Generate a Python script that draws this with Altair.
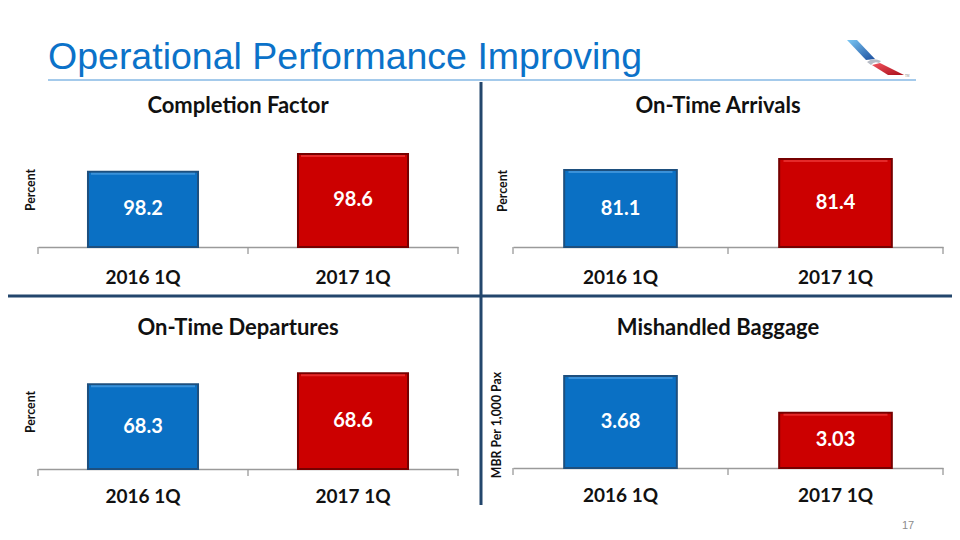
import base64
import altair as alt
import pandas as pd

# ---------------- data ----------------
periods = ["2016 1Q", "2017 1Q"]
completion_factor = [98.2, 98.6]
on_time_arrivals = [81.1, 81.4]
on_time_departures = [68.3, 68.6]
mishandled_baggage = [3.68, 3.03]

panel_titles = ["Completion Factor", "On-Time Arrivals", "On-Time Departures", "Mishandled Baggage"]
axis_titles = ["Percent", "Percent", "Percent", "MBR Per 1,000 Pax"]
value_formats = [".1f", ".1f", ".1f", ".2f"]
# truncated value axes (the slide's bars do not start at zero)
axis_domains = [[96.5, 99.0], [79.0, 82.0], [66.0, 69.0], [2.05, 4.0]]
slide_title = "Operational Performance Improving"
page_number = "17"

# ---------------- layout / style ----------------
M = 8
W, H = 944, 523


def px(v):
    return v - M


BLUE, RED = "#0A70C4", "#CC0000"
BLUE_EDGE, RED_EDGE = "#1D4F7E", "#760000"
BLUE_HI, RED_HI = "#4E9FE2", "#F03A3A"
TXT = "#111111"
AXIS_GREY = "#9A9A9A"
BODY_FONT = "Lato"

panels = [
    dict(values=completion_factor, xr=(38, 458), base=247, top=136.25, title=(238, 106), ytitle=(31, 190), lpad=21),
    dict(values=on_time_arrivals, xr=(513, 943), base=247, top=137, title=(718, 106), ytitle=(503, 191), lpad=21),
    dict(values=on_time_departures, xr=(38, 458), base=469, top=358.6, title=(238, 328), ytitle=(31, 412), lpad=18),
    dict(values=mishandled_baggage, xr=(513, 943), base=468, top=358, title=(718, 328), ytitle=(497, 425), lpad=18),
]

one_row = alt.Data(values=[{"k": 1}])


def text_layer(txt, x, y, **kw):
    return alt.Chart(pd.DataFrame({"t": [txt]})).mark_text(**kw).encode(
        text="t:N", x=alt.value(px(x)), y=alt.value(px(y))
    )


def rule_v(x, y0, y1, **kw):
    return alt.Chart(one_row).mark_rule(**kw).encode(
        x=alt.value(px(x)), y=alt.value(px(y0)), y2=alt.value(px(y1)))


layers = []

for i, p in enumerate(panels):
    dmin, dmax = axis_domains[i]
    df = pd.DataFrame({"period": periods, "value": p["values"]})
    df["mid"] = (df["value"] + dmin) / 2.0

    xs = alt.Scale(domain=periods, range=[px(p["xr"][0]), px(p["xr"][1])],
                   paddingInner=0.476, paddingOuter=0.238)
    ys = alt.Scale(domain=[dmin, dmax], range=[px(p["base"]), px(p["top"])], zero=False, nice=False)
    fill_scale = alt.Scale(domain=periods, range=[BLUE, RED])
    edge_scale = alt.Scale(domain=periods, range=[BLUE_EDGE, RED_EDGE])
    hi_scale = alt.Scale(domain=periods, range=[BLUE_HI, RED_HI])

    bars = alt.Chart(df).mark_bar(strokeWidth=2).encode(
        x=alt.X("period:N", scale=xs, sort=periods,
                axis=alt.Axis(orient="bottom", offset=px(p["base"]) - H, title=None,
                              labelFont=BODY_FONT, labelFontWeight="bold", labelFontSize=19,
                              labelColor=TXT, labelPadding=p["lpad"], labelAngle=0,
                              domain=True, domainColor=AXIS_GREY, domainWidth=1.3,
                              ticks=False, grid=False)),
        y=alt.Y("value:Q", scale=ys, axis=None),
        y2=alt.datum(dmin),
        fill=alt.Fill("period:N", scale=fill_scale, legend=None),
        stroke=alt.Stroke("period:N", scale=edge_scale, legend=None),
    )
    hi = alt.Chart(df).mark_tick(thickness=2, size=104, yOffset=2).encode(
        x=alt.X("period:N", scale=xs, sort=periods, axis=None),
        y=alt.Y("value:Q", scale=ys, axis=None),
        color=alt.Color("period:N", scale=hi_scale, legend=None),
    )
    labels = alt.Chart(df).mark_text(font=BODY_FONT, fontWeight="bold", fontSize=20,
                                     color="white", baseline="middle").encode(
        x=alt.X("period:N", scale=xs, sort=periods, axis=None),
        y=alt.Y("mid:Q", scale=ys, axis=None),
        text=alt.Text("value:Q", format=value_formats[i]),
    )
    layers += [bars, hi, labels]

    # category-boundary ticks below the axis line
    x0, x1 = p["xr"]
    for tx in (x0, (x0 + x1) / 2.0, x1):
        layers.append(rule_v(tx, p["base"], p["base"] + 7, color=AXIS_GREY, strokeWidth=1.3))

    layers.append(text_layer(panel_titles[i], p["title"][0], p["title"][1], font=BODY_FONT,
                             fontWeight="bold", fontSize=22, color=TXT, align="center",
                             baseline="middle"))
    layers.append(text_layer(axis_titles[i], p["ytitle"][0], p["ytitle"][1], font=BODY_FONT,
                             fontWeight="bold", fontSize=12.3, color=TXT, align="center",
                             baseline="middle", angle=270))

# slide title and underline
layers.append(text_layer(slide_title, 48, 69, font="Liberation Sans", fontSize=37.5,
                         color="#0B72C9", align="left", baseline="alphabetic"))
layers.append(alt.Chart(one_row).mark_rule(color="#86B9E4", strokeWidth=1.5).encode(
    x=alt.value(px(48)), x2=alt.value(px(916)), y=alt.value(px(80))))

# dividers
layers.append(rule_v(481, 82, 505, color="#23466C", strokeWidth=3))
layers.append(alt.Chart(one_row).mark_rule(color="#23466C", strokeWidth=3).encode(
    x=alt.value(0), x2=alt.value(W), y=alt.value(px(296))))

# logo
logo_svg = (
    "<svg xmlns='http://www.w3.org/2000/svg' width='64' height='46' viewBox='0 0 64 46'>"
    "<defs><linearGradient id='b' x1='0' y1='0' x2='1' y2='1'>"
    "<stop offset='0' stop-color='#7CC8F4'/><stop offset='1' stop-color='#1B4E9E'/></linearGradient>"
    "<linearGradient id='r' x1='0' y1='0' x2='1' y2='1'>"
    "<stop offset='0' stop-color='#F2545E'/><stop offset='1' stop-color='#A80E1A'/></linearGradient></defs>"
    "<polygon points='1,4 11,4 29,23 20,24' fill='url(#b)'/>"
    "<path d='M21,26 Q27,21 35,25 L33,27 Q28,25 25,29 Z' fill='#B7BCC6'/>"
    "<polygon points='26,29 34,27 58,39 42,39' fill='url(#r)'/>"
    "<text x='59' y='41' font-size='3' fill='#888'>TM</text>"
    "</svg>"
)
logo_url = "data:image/svg+xml;base64," + base64.b64encode(logo_svg.encode()).decode()
layers.append(alt.Chart(one_row).mark_image(url=logo_url, width=64, height=46,
                                            align="left", baseline="top").encode(
    x=alt.value(px(846)), y=alt.value(px(36))))

# page number
layers.append(text_layer(page_number, 908, 526, font="Liberation Sans", fontSize=11,
                         color="#8C8C8C", align="center", baseline="middle"))

chart = alt.layer(*layers).resolve_scale(
    x="independent", y="independent", fill="independent", stroke="independent", color="independent"
).resolve_axis(x="independent", y="independent").properties(
    width=W, height=H, autosize=alt.AutoSizeParams(type="none"), padding=0,
    background="white"
).configure_view(stroke=None)

chart.save("out.html", embed_options={"renderer": "svg", "actions": False})
